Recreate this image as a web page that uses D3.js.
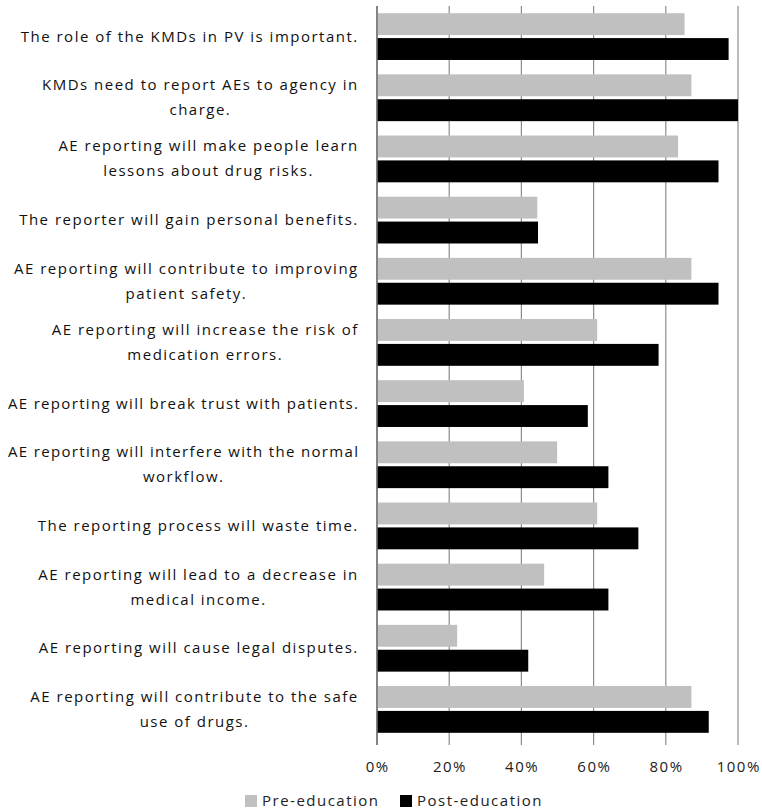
<!DOCTYPE html>
<html><head><meta charset="utf-8">
<script src="https://cdn.jsdelivr.net/npm/d3@7"></script>
<style>body{margin:0;background:#fff}svg{display:block}text{font-family:"Open Sans",sans-serif}</style>
</head><body><svg id="c" width="762" height="812"></svg>
<script>
const categories = [
 "The role of the KMDs in PV is important.",
 "KMDs need to report AEs to agency in\ncharge.",
 "AE reporting will make people learn\nlessons about drug risks.",
 "The reporter will gain personal benefits.",
 "AE reporting will contribute to improving\npatient safety.",
 "AE reporting will increase the risk of\nmedication errors.",
 "AE reporting will break trust with patients.",
 "AE reporting will interfere with the normal\nworkflow.",
 "The reporting process will waste time.",
 "AE reporting will lead to a decrease in\nmedical income.",
 "AE reporting will cause legal disputes.",
 "AE reporting will contribute to the safe\nuse of drugs."
];
const seriesNames = ["Pre-education","Post-education"];
const preEducation  = [85.2, 87.1, 83.4, 44.4, 87.1, 61.0, 40.7, 49.9, 61.0, 46.3, 22.2, 87.1];
const postEducation = [97.4, 100, 94.6, 44.6, 94.6, 78.0, 58.4, 64.1, 72.4, 64.1, 41.9, 91.9];
const tickValues = [0,20,40,60,80,100];
const colors = ["#c0c0c0","#000000"];

const svg = d3.select("#c");
const fs = 15;
// letter spacing to mimic the wide reference face
const m = svg.append("text").attr("font-size",fs).text(categories[0]);
const ls = (338 - m.node().getComputedTextLength()) / categories[0].length;
m.remove();

const x = d3.scaleLinear().domain([0,100]).range([377,738]);
const y0 = d3.scaleBand().domain(categories).range([6,740]).paddingInner(0.235).paddingOuter(0.1175);
const y1 = d3.scaleBand().domain(seriesNames).range([0,y0.bandwidth()]).paddingInner(0.12);

// grid
svg.append("g").selectAll("line").data(tickValues).join("line")
  .attr("x1",d=>x(d)).attr("x2",d=>x(d)).attr("y1",6).attr("y2",745)
  .attr("stroke","#8c8c8c").attr("stroke-width",1.2);

// bars
const rows = categories.map((c,i)=>({c, vals:[preEducation[i], postEducation[i]]}));
const g = svg.append("g").selectAll("g").data(rows).join("g")
  .attr("transform",d=>`translate(0,${y0(d.c)})`);
g.selectAll("rect").data(d=>d.vals.map((v,j)=>({v,s:seriesNames[j],j}))).join("rect")
  .attr("x",x(0)).attr("y",d=>y1(d.s)).attr("height",y1.bandwidth())
  .attr("width",d=>x(d.v)-x(0)).attr("fill",d=>colors[d.j]);

// left axis line
svg.append("line").attr("x1",x(0)).attr("x2",x(0)).attr("y1",6).attr("y2",745)
  .attr("stroke","#707070").attr("stroke-width",1.5);

// x tick labels
svg.append("g").selectAll("text").data(tickValues).join("text")
  .attr("x",d=>x(d)+ls/2).attr("y",772).attr("text-anchor","middle")
  .attr("font-size",fs).attr("letter-spacing",ls).attr("fill","#222").text(d=>d+"%");

// category labels (centered lines, block right-aligned)
const rightEdge = 358, lineH = 25, maxLineW = 350;
categories.forEach(c=>{
  const t = svg.append("text").attr("font-size",fs).attr("letter-spacing",ls).attr("fill","#111");
  const lines = c.split("\n");
  const widths = lines.map(l=>{ const s=t.append("tspan").text(l); const w=s.node().getComputedTextLength(); s.remove(); return Math.min(w, maxLineW);});
  const bw = Math.max(...widths);
  const cx = rightEdge - bw/2 + ls/2;
  const cy = y0(c) + y0.bandwidth()/2;
  const startY = cy - (lines.length-1)*lineH/2 + 5;
  t.attr("text-anchor","middle");
  lines.forEach((l,i)=>{
    const sp = t.append("tspan").attr("x",cx).attr("y",startY+i*lineH).text(l);
    if (sp.node().getComputedTextLength() > maxLineW) { sp.remove(); 
      svg.append("text").attr("font-size",fs).attr("fill","#111").attr("text-anchor","end")
        .attr("x",rightEdge).attr("y",startY+i*lineH)
        .attr("textLength",maxLineW).attr("lengthAdjust","spacing").text(l);
    }
  });
});

// legend
const legend = [{n:seriesNames[0],c:colors[0],x:245},{n:seriesNames[1],c:colors[1],x:400}];
const lg = svg.append("g").selectAll("g").data(legend).join("g");
lg.append("rect").attr("x",d=>d.x).attr("y",795).attr("width",12).attr("height",12).attr("fill",d=>d.c);
lg.append("text").attr("x",d=>d.x+17).attr("y",806).attr("font-size",fs).attr("letter-spacing",ls).attr("fill","#222").text(d=>d.n);
</script></body></html>
